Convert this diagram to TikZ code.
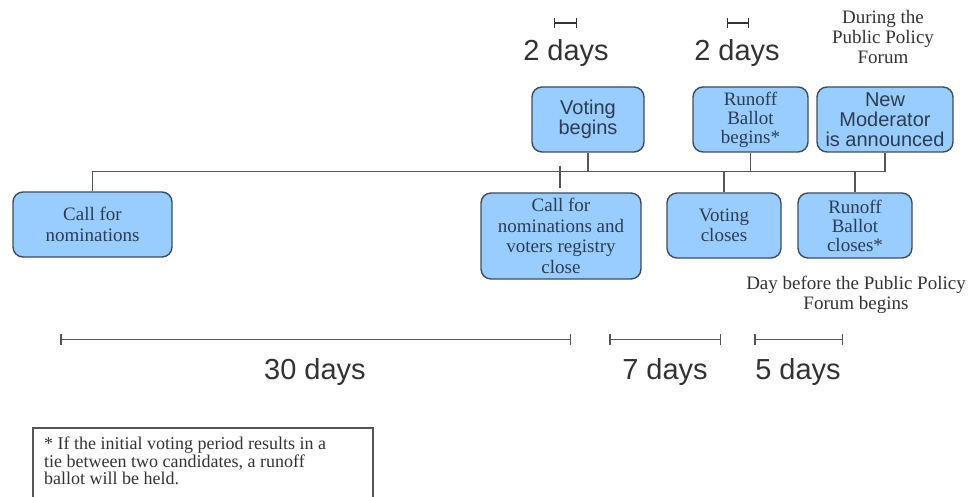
\documentclass[tikz,border=0pt]{standalone}
\usepackage{fontspec}
\setmainfont{Liberation Serif}
\newfontfamily\sansf{Liberation Sans}
\usetikzlibrary{arrows.meta}
\definecolor{boxfill}{HTML}{99CCFF}
\definecolor{boxline}{HTML}{3E4D5E}
\definecolor{boxtext}{HTML}{2B3D52}
\definecolor{linegray}{HTML}{555555}
\definecolor{labeltext}{HTML}{333333}
\tikzset{
  box/.style={draw=boxline, line width=1.4pt, fill=boxfill, rounded corners=10pt,
    text=boxtext, align=center, inner sep=2pt},
  serifbox/.style={box, font=\fontsize{19}{20.5}\selectfont},
  sansbox/.style={box, font=\sansf\fontsize{20}{20}\selectfont},
  conn/.style={draw=linegray, line width=1.5pt},
  span/.style={draw=linegray, line width=1.5pt, {Bar[width=11pt,line width=1.5pt]}-{Bar[width=11pt,line width=1.5pt]}},
  smallspan/.style={draw=labeltext, line width=1.3pt, {Bar[width=10pt,line width=1.3pt]}-{Bar[width=10pt,line width=1.3pt]}},
  daylabel/.style={text=labeltext, font=\sansf\fontsize{29}{30}\selectfont},
  notelabel/.style={text=labeltext, align=center, font=\fontsize{19}{20}\selectfont}
}
\begin{document}
\begin{tikzpicture}[x=1pt,y=-1pt]
\useasboundingbox (0,0) rectangle (969,497);

% boxes
\node[serifbox, minimum width=159pt, minimum height=65pt] (cfn) at (92.5,224.5) {Call for\\nominations};
\node[sansbox, minimum width=112pt, minimum height=65pt] (vb) at (588,119.5) {Voting\\begins};
\node[serifbox, minimum width=115pt, minimum height=65pt, font=\fontsize{19}{19}\selectfont] (rbb) at (750.5,119.5) {Runoff\\Ballot\\begins*};
\node[sansbox, minimum width=136pt, minimum height=65pt] (nm) at (885,119.5) {New\\Moderator\\is announced};
\node[serifbox, minimum width=160pt, minimum height=86pt] (cfnv) at (561,236) {Call for\\nominations and\\voters registry\\close};
\node[serifbox, minimum width=114pt, minimum height=65pt] (vc) at (724,225.5) {Voting\\closes};
\node[serifbox, minimum width=114pt, minimum height=65pt, font=\fontsize{19}{19}\selectfont] (rbc) at (855,225.5) {Runoff\\Ballot\\closes*};

% timeline
\coordinate (tr) at (885,171.5);
\coordinate (tickt) at (560,166);
\coordinate (tickb) at (560,188);
\draw[conn] (cfn.north) |- (tr) -- (nm.south);
\draw[conn] (vb.south) -- (vb.south |- tr);
\draw[conn] (rbb.south) -- (rbb.south |- tr);
\draw[conn] (vc.north) -- (vc.north |- tr);
\draw[conn] (rbc.north) -- (rbc.north |- tr);
\draw[conn] (tickt) -- (tickb);

% top spans
\coordinate (s1a) at (554,23); \coordinate (s1b) at (577,23);
\coordinate (s2a) at (727,23); \coordinate (s2b) at (749,23);
\draw[smallspan] (s1a) -- (s1b);
\draw[smallspan] (s2a) -- (s2b);
\node[daylabel] (d1) at (566,53) {2 days};
\node[daylabel] (d2) at (737,53) {2 days};

\node[notelabel] (during) at (883,37) {During the\\Public Policy\\Forum};
\node[notelabel] (daybefore) at (856,295) {Day before the Public Policy\\Forum begins};

% bottom spans
\coordinate (b1a) at (60,339.5); \coordinate (b1b) at (571,339.5);
\coordinate (b2a) at (609,339.5); \coordinate (b2b) at (721,339.5);
\coordinate (b3a) at (754,339.5); \coordinate (b3b) at (843,339.5);
\draw[span] (b1a) -- (b1b);
\draw[span] (b2a) -- (b2b);
\draw[span] (b3a) -- (b3b);
\node[daylabel] (d30) at (315,372) {30 days};
\node[daylabel] (d7) at (665,372) {7 days};
\node[daylabel] (d5) at (798,372) {5 days};

% footnote
\coordinate (fnw) at (33,428);
\coordinate (fse) at (373,505);
\draw[draw=linegray, line width=1.3pt] (fnw) rectangle (fse);
\node[anchor=north west, inner sep=0pt, align=left, text=labeltext,
  font=\fontsize{18}{17.5}\selectfont] (fn) at (44,437)
  {* If the initial voting period results in a\\tie between two candidates, a runoff\\ballot will be held.};
\end{tikzpicture}
\end{document}
